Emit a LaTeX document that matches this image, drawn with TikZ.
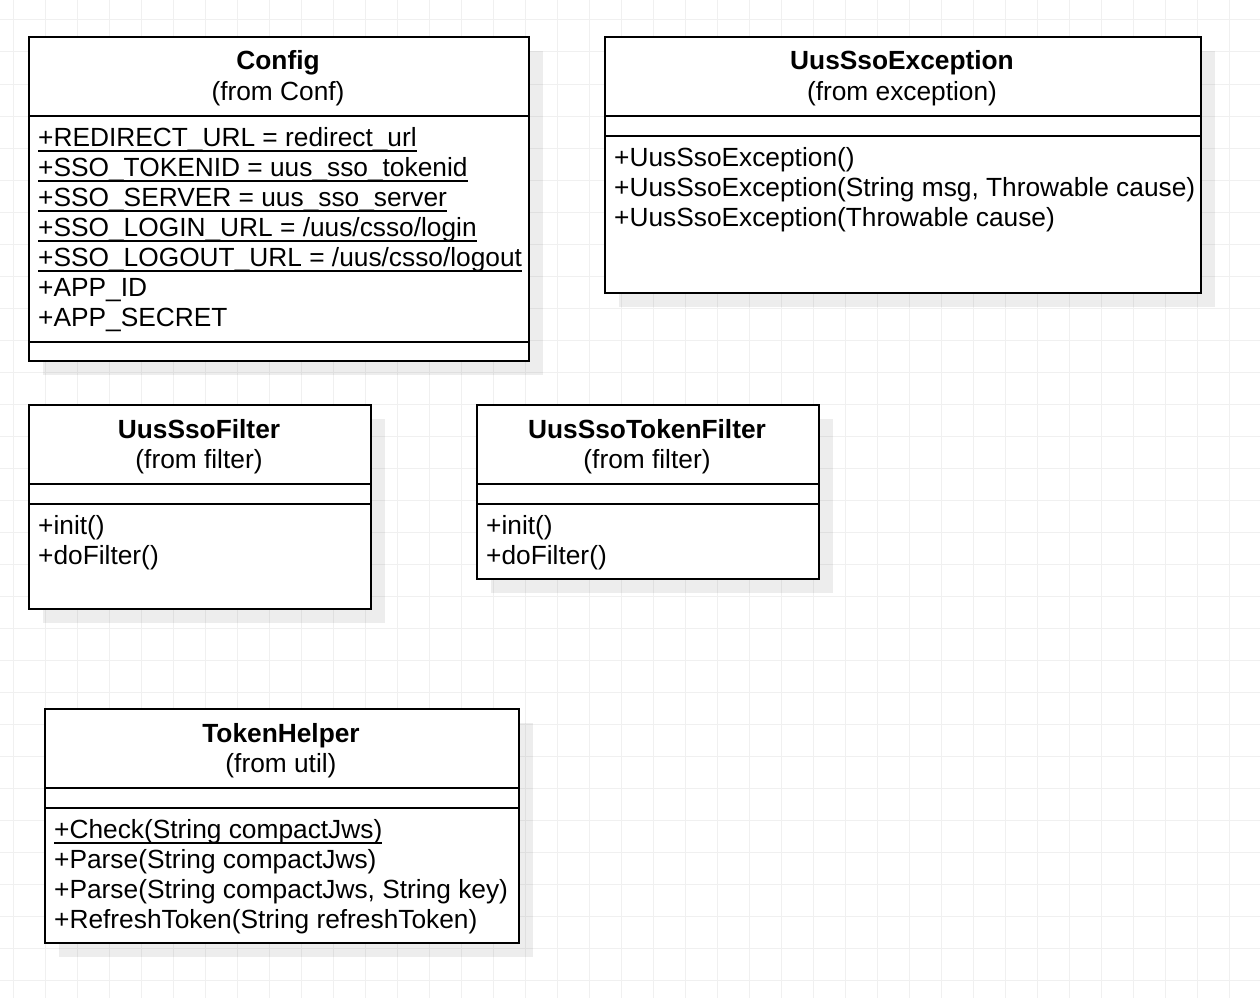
\documentclass[tikz,border=0pt]{standalone}
\usepackage{fontspec}
\setmainfont{Liberation Sans}
\usetikzlibrary{shadows}
\newcommand\ulx[1]{\setbox0=\hbox{#1}\dimen0=\wd0\rlap{\box0}\rule[-5.5pt]{\dimen0}{1.6pt}}
\begin{document}
\begin{tikzpicture}[x=1pt,y=-1pt,
  txt/.style={font=\fontsize{26.3}{30}\selectfont, inner sep=0pt, anchor=base west},
  ttl/.style={font=\fontsize{26.3}{30}\selectfont\bfseries, inner sep=0pt, anchor=base},
  frm/.style={font=\fontsize{26.3}{30}\selectfont, inner sep=0pt, anchor=base},
  classbox/.style={draw=black, line width=2pt, fill=white, anchor=north west, inner sep=0pt,
     drop shadow={shadow xshift=14pt, shadow yshift=-14pt, fill=black, opacity=0.07}},
  sepline/.style={draw=black, line width=2pt},
  gridl/.style={draw=black!6, line width=1pt}]
\fill[white] (0,0) rectangle (1260,998);
\useasboundingbox (0,0) rectangle (1260,998);
\foreach \x in {13,45,...,1260} \draw[gridl] (\x,0) -- (\x,998);
\foreach \y in {20,52,...,998} \draw[gridl] (0,\y) -- (1260,\y);

% Config
\node[classbox, minimum width=500pt, minimum height=324pt] (cfg) at (28,36) {};
\draw[sepline] (cfg.north west) ++(0,80) -- ++(500,0);
\draw[sepline] (cfg.north west) ++(0,306) -- ++(500,0);
\node[ttl] (cfgt) at (278,70) {Config};
\node[frm] (cfgf) at (278,100) {(from Conf)};
\node[txt] (cfg1) at (38,146) {\ulx{+REDIRECT\_URL = redirect\_url}};
\node[txt] (cfg2) at (38,176) {\ulx{+SSO\_TOKENID = uus\_sso\_tokenid}};
\node[txt] (cfg3) at (38,206) {\ulx{+SSO\_SERVER = uus\_sso\_server}};
\node[txt] (cfg4) at (38,236) {\ulx{+SSO\_LOGIN\_URL = /uus/csso/login}};
\node[txt] (cfg5) at (38,266) {\ulx{+SSO\_LOGOUT\_URL = /uus/csso/logout}};
\node[txt] (cfg6) at (38,296) {+APP\_ID};
\node[txt] (cfg7) at (38,326) {+APP\_SECRET};

% UusSsoException
\node[classbox, minimum width=596pt, minimum height=256pt] (exc) at (604,36) {};
\draw[sepline] (exc.north west) ++(0,80) -- ++(596,0);
\draw[sepline] (exc.north west) ++(0,100) -- ++(596,0);
\node[ttl] (exct) at (902,70) {UusSsoException};
\node[frm] (excf) at (902,100) {(from exception)};
\node[txt] (exc1) at (614,166) {+UusSsoException()};
\node[txt] (exc2) at (614,196) {+UusSsoException(String msg, Throwable cause)};
\node[txt] (exc3) at (614,226) {+UusSsoException(Throwable cause)};

% UusSsoFilter
\node[classbox, minimum width=342pt, minimum height=204pt] (flt) at (28,404) {};
\draw[sepline] (flt.north west) ++(0,80) -- ++(342,0);
\draw[sepline] (flt.north west) ++(0,100) -- ++(342,0);
\node[ttl] (fltt) at (199,438) {UusSsoFilter};
\node[frm] (fltf) at (199,468) {(from filter)};
\node[txt] (flt1) at (38,534) {+init()};
\node[txt] (flt2) at (38,564) {+doFilter()};

% UusSsoTokenFilter
\node[classbox, minimum width=342pt, minimum height=174pt] (tfl) at (476,404) {};
\draw[sepline] (tfl.north west) ++(0,80) -- ++(342,0);
\draw[sepline] (tfl.north west) ++(0,100) -- ++(342,0);
\node[ttl] (tflt) at (647,438) {UusSsoTokenFilter};
\node[frm] (tflf) at (647,468) {(from filter)};
\node[txt] (tfl1) at (486,534) {+init()};
\node[txt] (tfl2) at (486,564) {+doFilter()};

% TokenHelper
\node[classbox, minimum width=474pt, minimum height=234pt] (tkh) at (44,708) {};
\draw[sepline] (tkh.north west) ++(0,80) -- ++(474,0);
\draw[sepline] (tkh.north west) ++(0,100) -- ++(474,0);
\node[ttl] (tkht) at (281,742) {TokenHelper};
\node[frm] (tkhf) at (281,772) {(from util)};
\node[txt] (tkh1) at (54,838) {\ulx{+Check(String compactJws)}};
\node[txt] (tkh2) at (54,868) {+Parse(String compactJws)};
\node[txt] (tkh3) at (54,898) {+Parse(String compactJws, String key)};
\node[txt] (tkh4) at (54,928) {+RefreshToken(String refreshToken)};
\end{tikzpicture}
\end{document}
